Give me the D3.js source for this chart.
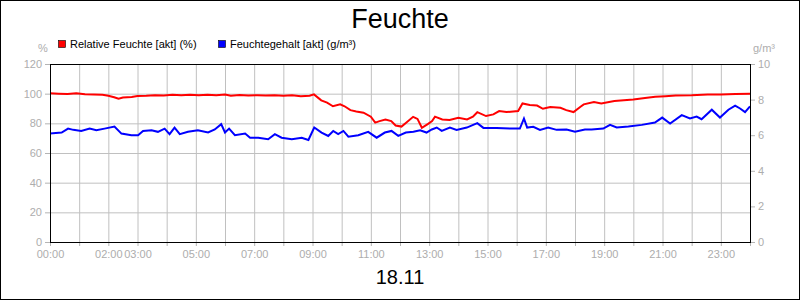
<!DOCTYPE html>
<html>
<head>
<meta charset="utf-8">
<script src="https://cdn.jsdelivr.net/npm/d3@7"></script>
<style>
  body { margin: 0; background: #fff; }
  svg { display: block; font-family: "Liberation Sans", Arial, sans-serif; }
  .axis path { display: none; }
  .axis line { stroke: #b4b4b4; }
  .axis text { fill: #adadad; font-size: 11px; }
  .grid path { display: none; }
  .grid line { stroke: #c0c0c0; }
</style>
</head>
<body>
<svg width="800" height="300"></svg>
<script>
/* measurement times in hours of the day (18.11) */
var rfTimes = [0, 0.3, 0.6, 0.9, 1.2, 1.5, 1.8, 2.0, 2.2, 2.35, 2.5, 2.8, 3.0, 3.3, 3.6, 3.9,
  4.2, 4.5, 4.8, 5.1, 5.4, 5.7, 6.0, 6.2, 6.5, 6.8, 7.1, 7.4, 7.7, 8.0, 8.3, 8.6, 8.9, 9.05,
  9.3, 9.5, 9.7, 9.95, 10.1, 10.3, 10.5, 10.75, 11.0, 11.15, 11.3, 11.5, 11.7, 11.85, 12.05,
  12.2, 12.45, 12.6, 12.75, 12.95, 13.1, 13.2, 13.45, 13.7, 14.0, 14.3, 14.5, 14.65, 14.95,
  15.2, 15.4, 15.65, 16.05, 16.2, 16.45, 16.7, 16.9, 17.15, 17.5, 17.7, 17.95, 18.2, 18.3,
  18.65, 18.9, 19.35, 20.0, 20.4, 20.75, 21.1, 21.45, 22.0, 22.55, 23.0, 23.5, 24.0];
/* Relative Feuchte in % */
var rfValues = [100.2, 100.0, 99.8, 100.3, 99.6, 99.4, 99.2, 98.6, 97.6, 96.6, 97.4, 97.8, 98.4,
  98.6, 99.0, 98.8, 99.3, 98.9, 99.2, 98.9, 99.3, 99.0, 99.4, 98.6, 99.1, 98.8, 99.0, 98.7,
  99.0, 98.6, 98.9, 98.2, 98.6, 99.5, 95.5, 94.0, 91.5, 92.8, 91.5, 88.9, 88.0, 87.2, 84.5,
  80.5, 81.5, 82.6, 81.5, 78.5, 77.8, 80.3, 84.4, 83.0, 77.0, 79.5, 81.5, 84.5, 82.6, 82.2,
  83.7, 82.6, 84.5, 87.5, 84.9, 86.0, 88.3, 87.6, 88.3, 93.4, 92.3, 92.0, 89.8, 91.0, 90.5,
  88.9, 87.6, 91.3, 92.8, 94.3, 93.4, 95.0, 96.1, 97.0, 97.9, 98.3, 98.8, 99.0, 99.5, 99.4,
  99.8, 100.0];

var fgTimes = [0, 0.1, 0.4, 0.62, 0.8, 1.07, 1.36, 1.59, 1.87, 2.21, 2.45, 2.79, 3.02, 3.19,
  3.48, 3.7, 3.93, 4.1, 4.27, 4.45, 4.73, 5.07, 5.42, 5.65, 5.87, 6.0, 6.14, 6.34, 6.69, 6.86,
  7.14, 7.48, 7.71, 7.94, 8.29, 8.63, 8.86, 9.06, 9.31, 9.54, 9.71, 9.88, 10.06, 10.23, 10.57,
  10.91, 11.2, 11.48, 11.71, 11.94, 12.2, 12.46, 12.69, 12.91, 13.09, 13.26, 13.43, 13.71,
  13.94, 14.29, 14.65, 14.86, 15.31, 15.77, 16.11, 16.25, 16.36, 16.57, 16.8, 17.08, 17.37,
  17.71, 18.0, 18.34, 18.57, 18.97, 19.2, 19.43, 19.83, 20.29, 20.74, 20.99, 21.26, 21.66,
  21.94, 22.17, 22.34, 22.69, 22.97, 23.26, 23.49, 23.66, 23.83, 24.0];
/* Feuchtegehalt in g/m³ */
var fgValues = [6.1, 6.11, 6.15, 6.37, 6.3, 6.24, 6.37, 6.28, 6.37, 6.49, 6.09, 6.0, 6.0, 6.24,
  6.28, 6.19, 6.37, 6.06, 6.43, 6.06, 6.19, 6.28, 6.15, 6.32, 6.62, 6.15, 6.37, 6.0, 6.09, 5.86,
  5.86, 5.77, 6.06, 5.86, 5.77, 5.86, 5.73, 6.43, 6.15, 5.96, 6.24, 6.06, 6.24, 5.92, 6.0,
  6.19, 5.86, 6.15, 6.24, 5.96, 6.15, 6.19, 6.28, 6.15, 6.32, 6.43, 6.24, 6.43, 6.3, 6.43,
  6.68, 6.41, 6.41, 6.37, 6.37, 6.94, 6.43, 6.47, 6.3, 6.43, 6.3, 6.32, 6.2, 6.32, 6.32, 6.37,
  6.58, 6.43, 6.49, 6.58, 6.71, 6.99, 6.66, 7.13, 6.94, 7.05, 6.9, 7.43, 6.99, 7.43, 7.66, 7.5,
  7.3, 7.62];

var hourLabels = [0, 2, 3, 5, 7, 9, 11, 13, 15, 17, 19, 21, 23];
var leftTicks = [0, 20, 40, 60, 80, 100, 120];
var rightTicks = [0, 2, 4, 6, 8, 10];

var svg = d3.select("svg"),
    margin = {top: 64, right: 50, bottom: 58, left: 50},
    width = +svg.attr("width") - margin.left - margin.right,
    height = +svg.attr("height") - margin.top - margin.bottom;

var x = d3.scaleLinear().domain([0, 24]).range([0, width]),
    yL = d3.scaleLinear().domain([0, 120]).range([height, 0]),
    yR = d3.scaleLinear().domain([0, 10]).range([height, 0]);

/* outer frame */
svg.append("rect")
    .attr("x", 0.5).attr("y", 0.5).attr("width", 799).attr("height", 299)
    .attr("fill", "none").attr("stroke", "#000");

var g = svg.append("g")
    .attr("transform", "translate(" + margin.left + "," + margin.top + ")");

/* grid lines, one per hour and one per 20 % */
g.append("g")
    .attr("class", "grid")
    .attr("transform", "translate(0," + height + ")")
    .call(d3.axisBottom(x).tickValues(d3.range(1, 24)).tickSize(-height).tickFormat(""));
g.append("g")
    .attr("class", "grid")
    .call(d3.axisLeft(yL).tickValues(leftTicks.slice(1, -1)).tickSize(-width).tickFormat(""));

/* axes */
g.append("g")
    .attr("class", "axis")
    .attr("transform", "translate(0," + height + ")")
    .call(d3.axisBottom(x).tickValues(d3.range(0, 25)).tickSize(4).tickPadding(4)
      .tickFormat(function(d) {
        return hourLabels.indexOf(d) < 0 ? "" : (d < 10 ? "0" : "") + d + ":00";
      }));
g.append("g")
    .attr("class", "axis")
    .call(d3.axisLeft(yL).tickValues(leftTicks).tickSize(5).tickPadding(3));
g.append("g")
    .attr("class", "axis")
    .attr("transform", "translate(" + width + ",0)")
    .call(d3.axisRight(yR).tickValues(rightTicks).tickSize(5).tickPadding(3));

/* the two measurement lines */
var rfLine = d3.line()
    .x(function(d, i) { return x(rfTimes[i]); })
    .y(function(d) { return yL(d); });
var fgLine = d3.line()
    .x(function(d, i) { return x(fgTimes[i]); })
    .y(function(d) { return yR(d); });

g.append("path")
    .datum(rfValues)
    .attr("fill", "none").attr("stroke", "#ff0000").attr("stroke-width", 2)
    .attr("d", rfLine);
g.append("path")
    .datum(fgValues)
    .attr("fill", "none").attr("stroke", "#0000ff").attr("stroke-width", 2)
    .attr("d", fgLine);

/* plot frame */
g.append("rect")
    .attr("width", width).attr("height", height)
    .attr("fill", "none").attr("stroke", "#000")
    .attr("shape-rendering", "crispEdges");

/* texts */
svg.append("text")
    .attr("x", 400).attr("y", 28).attr("text-anchor", "middle")
    .attr("font-size", 27).text("Feuchte");
svg.append("text")
    .attr("x", 400).attr("y", 284).attr("text-anchor", "middle")
    .attr("font-size", 20).text("18.11");
svg.append("text")
    .attr("x", 43).attr("y", 52).attr("text-anchor", "middle")
    .attr("font-size", 11).attr("fill", "#adadad").text("%");
svg.append("text")
    .attr("x", 753).attr("y", 52)
    .attr("font-size", 11).attr("fill", "#adadad").text("g/m³");

/* legend */
var legend = [
  {label: "Relative Feuchte [akt] (%)", color: "#ff0000", x: 58},
  {label: "Feuchtegehalt [akt] (g/m³)", color: "#0000ff", x: 218}
];
legend.forEach(function(l) {
  svg.append("rect")
      .attr("x", l.x + 0.5).attr("y", 40.5).attr("width", 7).attr("height", 7)
      .attr("fill", l.color).attr("stroke", "#000").attr("stroke-width", 0.6);
  svg.append("text")
      .attr("x", l.x + 12).attr("y", 48)
      .attr("font-size", 11).text(l.label);
});
</script>
</body>
</html>
